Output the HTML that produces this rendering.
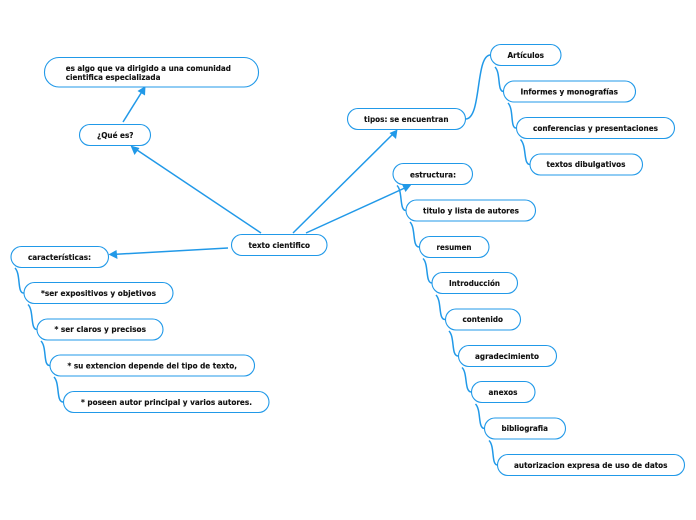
<!DOCTYPE html>
<html><head><meta charset="utf-8"><style>
html,body{margin:0;padding:0;background:#fff;width:696px;height:520px;overflow:hidden}
svg{display:block;filter:blur(0.3px)}
text{font-family:"DejaVu Sans",sans-serif;font-weight:bold;font-size:7.5px;fill:#111;stroke:#111;stroke-width:.12}
rect{fill:#fff;stroke:#2199e8;stroke-width:1.1}
.c{fill:none;stroke:#2199e8;stroke-width:1.5}
.a{fill:none;stroke:#2199e8;stroke-width:1.5}
.h{fill:#2199e8}
</style></head><body>
<svg width="696" height="520" viewBox="0 0 696 520" xmlns="http://www.w3.org/2000/svg">
<!-- arrows -->
<path class="a" d="M261 233L134 148"/><path class="h" d="M130.500 145.500L139.500 148L134.500 155Z"/>
<path class="a" d="M123 122L143 90"/><path class="h" d="M145.500 86L145 95.500L137.500 91Z"/>
<path class="a" d="M228 248L112 254.500"/><path class="h" d="M108.500 254.500L116.500 250L117.500 259Z"/>
<path class="a" d="M293 233L394 133"/><path class="h" d="M397.500 129.500L396 139L389.500 133Z"/>
<path class="a" d="M306 233L408 186.500"/><path class="h" d="M411.500 184.500L405.500 192L402 184.500Z"/>
<!-- curved connectors -->
<path class="c" d="M465.500 119C482 119 475 55 490.500 55"/>
<path class="c" d="M495 67C501 73 497 91.500 503.500 91.500"/>
<path class="c" d="M508 103C514 109 510 128 516 128"/>
<path class="c" d="M520.500 139.500C527 146 523 164.500 530 164.500"/>
<path class="c" d="M397 185.500C403 191 399 210.500 406 210.500"/>
<path class="c" d="M410 222C416 228 412 247 419 247"/>
<path class="c" d="M423 258.500C429 264 425 283 432 283"/>
<path class="c" d="M436 295C442 301 438 319.500 445 319.500"/>
<path class="c" d="M449 331C455 337 451 356 458 356"/>
<path class="c" d="M462 367.500C468 373 464 392 471.500 392"/>
<path class="c" d="M475.500 404C481.500 410 477.500 428.500 484.500 428.500"/>
<path class="c" d="M489 440.500C495 446 491 465 497.500 465"/>
<path class="c" d="M15 268C21 274 17 293 23.500 293"/>
<path class="c" d="M28 304.500C34 310 30 329.500 37 329.500"/>
<path class="c" d="M41 341C47 347 43 365.500 49.500 365.500"/>
<path class="c" d="M54 377C60 383 56 402 63 402"/>
<!-- nodes -->
<rect x="44.500" y="57.500" width="214" height="29.500" rx="14.500"/>
<rect x="79.500" y="124.500" width="71" height="21" rx="10.500"/>
<rect x="231.500" y="234.500" width="95.500" height="21" rx="10.500"/>
<rect x="11" y="246.500" width="97.500" height="21" rx="10.500"/>
<rect x="347.500" y="108.500" width="118" height="21" rx="10.500"/>
<rect x="490.500" y="44.500" width="70.500" height="21" rx="10.500"/>
<rect x="503.500" y="81" width="132" height="21" rx="10.500"/>
<rect x="516.500" y="117.500" width="158" height="21" rx="10.500"/>
<rect x="530" y="154" width="112.500" height="21" rx="10.500"/>
<rect x="393" y="163.500" width="79.500" height="21" rx="10.500"/>
<rect x="406" y="200" width="129.500" height="21" rx="10.500"/>
<rect x="419.500" y="236.500" width="69.500" height="21" rx="10.500"/>
<rect x="432" y="272.500" width="85.500" height="21" rx="10.500"/>
<rect x="445.500" y="309" width="75" height="21" rx="10.500"/>
<rect x="458.500" y="345.500" width="98" height="21" rx="10.500"/>
<rect x="471.500" y="381.500" width="63.500" height="21" rx="10.500"/>
<rect x="484.500" y="418" width="81" height="21" rx="10.500"/>
<rect x="497.500" y="454.500" width="187" height="21" rx="10.500"/>
<rect x="24" y="282.500" width="149" height="21" rx="10.500"/>
<rect x="37" y="319" width="126" height="21" rx="10.500"/>
<rect x="50" y="355" width="204.500" height="21" rx="10.500"/>
<rect x="63.500" y="391.500" width="205.500" height="21" rx="10.500"/>
<!-- labels -->
<text x="65.700" y="71" textLength="165.300" lengthAdjust="spacingAndGlyphs">es algo que va dirigido a una comunidad</text>
<text x="65.700" y="80" textLength="94.800" lengthAdjust="spacingAndGlyphs">cientifica especializada</text>
<text x="97" y="138" textLength="36.500" lengthAdjust="spacingAndGlyphs">¿Qué es?</text>
<text x="248.500" y="248" textLength="61.500" lengthAdjust="spacingAndGlyphs">texto cientifico</text>
<text x="28" y="260" textLength="63" lengthAdjust="spacingAndGlyphs">características:</text>
<text x="364" y="122" textLength="84.500" lengthAdjust="spacingAndGlyphs">tipos: se encuentran</text>
<text x="507.500" y="58" textLength="36.500" lengthAdjust="spacingAndGlyphs">Artículos</text>
<text x="520.500" y="94.500" textLength="97.500" lengthAdjust="spacingAndGlyphs">Informes y monografías</text>
<text x="533" y="131" textLength="125" lengthAdjust="spacingAndGlyphs">conferencias y presentaciones</text>
<text x="546.500" y="167" textLength="79" lengthAdjust="spacingAndGlyphs">textos dibulgativos</text>
<text x="410" y="177.500" textLength="46" lengthAdjust="spacingAndGlyphs">estructura:</text>
<text x="423" y="213.500" textLength="96" lengthAdjust="spacingAndGlyphs">titulo y lista de autores</text>
<text x="436.500" y="250" textLength="35" lengthAdjust="spacingAndGlyphs">resumen</text>
<text x="449" y="286" textLength="51" lengthAdjust="spacingAndGlyphs">Introducción</text>
<text x="462.500" y="322" textLength="40.500" lengthAdjust="spacingAndGlyphs">contenido</text>
<text x="475" y="359" textLength="64" lengthAdjust="spacingAndGlyphs">agradecimiento</text>
<text x="488.500" y="395" textLength="29" lengthAdjust="spacingAndGlyphs">anexos</text>
<text x="501.500" y="431" textLength="46.500" lengthAdjust="spacingAndGlyphs">bibliografia</text>
<text x="514" y="468" textLength="153.500" lengthAdjust="spacingAndGlyphs">autorizacion expresa de uso de datos</text>
<text x="41" y="296" textLength="115" lengthAdjust="spacingAndGlyphs">*ser expositivos y objetivos</text>
<text x="54.500" y="332" textLength="91.500" lengthAdjust="spacingAndGlyphs">* ser claros y precisos</text>
<text x="67.500" y="368.500" textLength="169.500" lengthAdjust="spacingAndGlyphs">* su extencion depende del tipo de texto,</text>
<text x="81" y="405" textLength="171" lengthAdjust="spacingAndGlyphs">* poseen autor principal y varios autores.</text>
</svg>
</body></html>
